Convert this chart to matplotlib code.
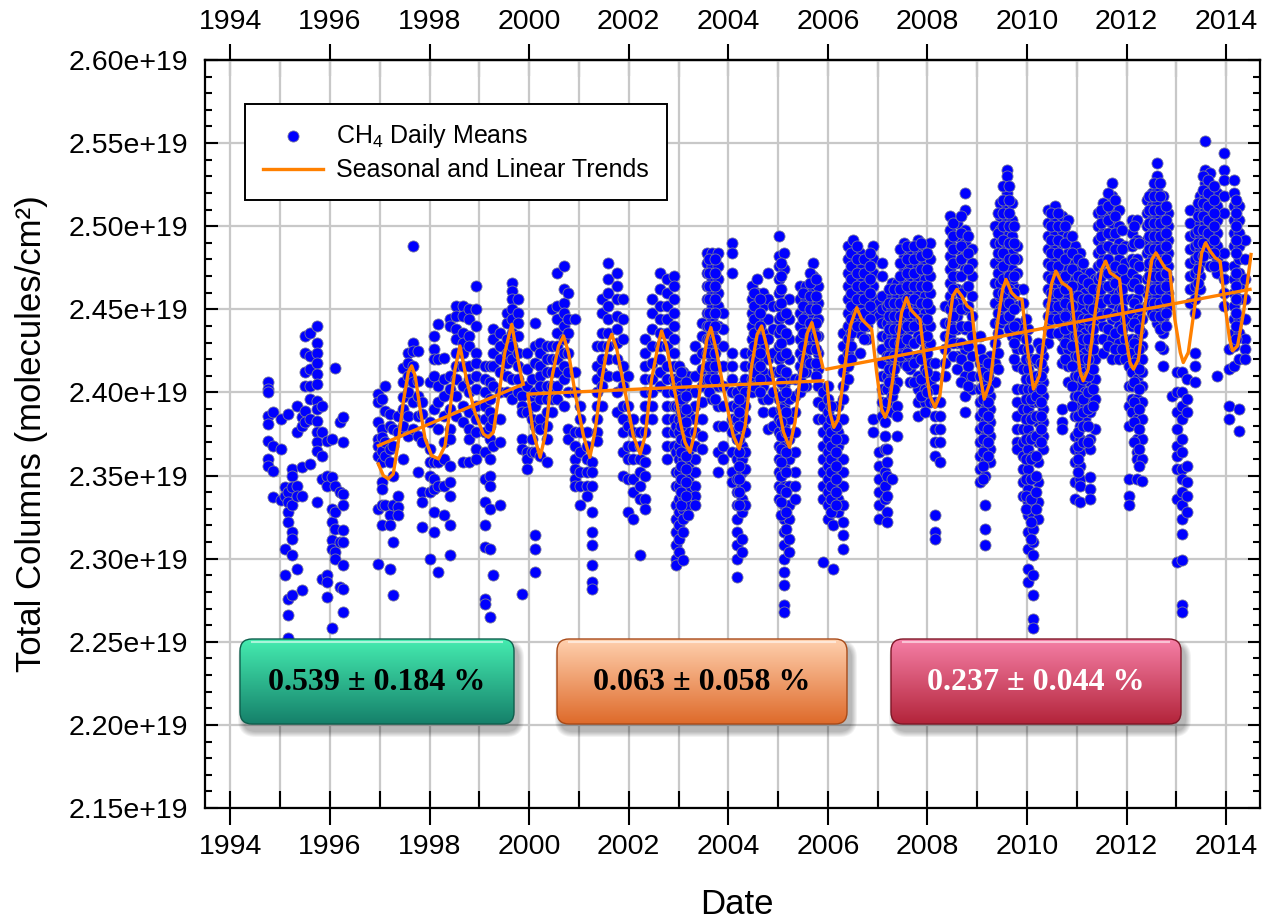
import numpy as np
import matplotlib
matplotlib.use("Agg")
import matplotlib.pyplot as plt
from matplotlib.patches import FancyBboxPatch
from matplotlib.colors import LinearSegmentedColormap
from matplotlib.ticker import MultipleLocator, FuncFormatter

plt.rcParams['font.family'] = ['Liberation Sans', 'DejaVu Sans']
plt.rcParams['mathtext.default'] = 'regular'

# ---------------- data (total columns, units of 1e19 molecules/cm^2) ----------------
# each entry: (decimal year, [daily mean values observed around that date])
daily_1994_1996 = [
    (1994.76, [2.406, 2.402, 2.400, 2.386, 2.381, 2.371, 2.360, 2.356]),
    (1994.86, [2.388, 2.368, 2.353, 2.337]),
    (1995.01, [2.384, 2.366, 2.335]),
    (1995.10, [2.343, 2.338, 2.306, 2.290]),
    (1995.16, [2.387, 2.340, 2.334, 2.328, 2.322, 2.276, 2.266, 2.252]),
    (1995.23, [2.354, 2.350, 2.343, 2.332, 2.316, 2.312, 2.302, 2.278]),
    (1995.33, [2.392, 2.376, 2.344, 2.338, 2.294]),
    (1995.43, [2.385, 2.380, 2.355, 2.338, 2.281]),
    (1995.50, [2.434, 2.424, 2.412, 2.404, 2.389, 2.382]),
    (1995.60, [2.436, 2.422, 2.414, 2.404, 2.396, 2.384, 2.357]),
    (1995.73, [2.440, 2.430, 2.424, 2.418, 2.411, 2.405, 2.395, 2.390, 2.383, 2.376, 2.370, 2.365, 2.334]),
    (1995.83, [2.392, 2.376, 2.362, 2.348, 2.288]),
    (1995.93, [2.371, 2.350, 2.344, 2.290, 2.286, 2.277]),
    (1996.03, [2.372, 2.349, 2.330, 2.322, 2.311, 2.306, 2.258]),
    (1996.10, [2.415, 2.344, 2.328, 2.318, 2.304, 2.300]),
    (1996.19, [2.382, 2.340, 2.310, 2.283]),
    (1996.27, [2.385, 2.370, 2.339, 2.332, 2.317, 2.310, 2.296, 2.282, 2.268]),
]

daily_1997_1999 = [
    (1996.97, [2.399, 2.394, 2.382, 2.372, 2.368, 2.362, 2.330, 2.297]),
    (1997.04, [2.396, 2.378, 2.373, 2.365, 2.358, 2.346, 2.342, 2.332, 2.320]),
    (1997.11, [2.404, 2.389, 2.370, 2.362, 2.332]),
    (1997.21, [2.387, 2.380, 2.366, 2.358, 2.326, 2.320, 2.294]),
    (1997.27, [2.378, 2.368, 2.350, 2.332, 2.310, 2.278]),
    (1997.37, [2.386, 2.376, 2.338, 2.331, 2.326]),
    (1997.47, [2.415, 2.406, 2.397, 2.390, 2.380, 2.360]),
    (1997.57, [2.424, 2.418, 2.410, 2.400, 2.386, 2.374]),
    (1997.67, [2.488, 2.430, 2.425, 2.416, 2.406, 2.394, 2.378]),
    (1997.77, [2.425, 2.407, 2.398, 2.386, 2.374, 2.352]),
    (1997.84, [2.394, 2.387, 2.370, 2.340, 2.334, 2.319]),
    (1998.01, [2.406, 2.382, 2.366, 2.358, 2.350, 2.340, 2.300]),
    (1998.08, [2.434, 2.426, 2.420, 2.410, 2.390, 2.358, 2.348, 2.342, 2.328, 2.316]),
    (1998.17, [2.441, 2.420, 2.404, 2.394, 2.378, 2.358, 2.344, 2.292]),
    (1998.28, [2.421, 2.408, 2.398, 2.386, 2.370, 2.360, 2.344, 2.326]),
    (1998.41, [2.444, 2.440, 2.410, 2.402, 2.390, 2.378, 2.372, 2.356, 2.346, 2.338, 2.320, 2.302]),
    (1998.54, [2.452, 2.446, 2.438, 2.432, 2.424, 2.416, 2.408, 2.398, 2.386]),
    (1998.68, [2.452, 2.446, 2.436, 2.430, 2.424, 2.416, 2.404, 2.392, 2.382, 2.358]),
    (1998.80, [2.450, 2.444, 2.434, 2.428, 2.416, 2.408, 2.400, 2.388, 2.378, 2.372, 2.358]),
    (1998.94, [2.464, 2.450, 2.440, 2.424, 2.418, 2.410, 2.402, 2.392, 2.384, 2.376, 2.366, 2.360]),
    (1999.11, [2.416, 2.408, 2.400, 2.392, 2.384, 2.376, 2.364, 2.348, 2.334, 2.320, 2.307, 2.276, 2.273]),
    (1999.21, [2.416, 2.406, 2.396, 2.388, 2.380, 2.372, 2.360, 2.350, 2.344, 2.330, 2.306, 2.265]),
    (1999.28, [2.438, 2.432, 2.424, 2.416, 2.404, 2.384, 2.368, 2.290]),
    (1999.41, [2.436, 2.428, 2.420, 2.412, 2.400, 2.384, 2.370, 2.332]),
    (1999.55, [2.448, 2.442, 2.432, 2.424, 2.418, 2.410, 2.400]),
    (1999.65, [2.466, 2.461, 2.456, 2.450, 2.444, 2.436, 2.428, 2.420, 2.408, 2.396]),
    (1999.78, [2.456, 2.448, 2.442, 2.434, 2.424, 2.416, 2.408, 2.400]),
    (1999.85, [2.398, 2.392, 2.388, 2.372, 2.366, 2.279]),
    (1999.95, [2.424, 2.414, 2.404, 2.388, 2.364, 2.360, 2.354]),
]

daily_2000_2005 = [
    (2000.05, [2.408, 2.398, 2.384, 2.372, 2.364]),
    (2000.12, [2.442, 2.428, 2.418, 2.400, 2.392, 2.380, 2.364, 2.314, 2.306, 2.292]),
    (2000.22, [2.430, 2.424, 2.416, 2.410, 2.404, 2.396, 2.384, 2.378, 2.362]),
    (2000.35, [2.428, 2.420, 2.412, 2.404, 2.396, 2.388, 2.380, 2.372, 2.358]),
    (2000.45, [2.450, 2.428, 2.420, 2.412, 2.404, 2.396, 2.388]),
    (2000.55, [2.472, 2.452, 2.444, 2.436, 2.428, 2.420, 2.412, 2.404, 2.396]),
    (2000.69, [2.476, 2.462, 2.454, 2.448, 2.440, 2.432, 2.424, 2.416, 2.408, 2.392]),
    (2000.79, [2.460, 2.444, 2.436, 2.424, 2.412, 2.400, 2.378, 2.372]),
    (2000.92, [2.444, 2.412, 2.400, 2.376, 2.368, 2.360, 2.354, 2.348, 2.344]),
    (2001.02, [2.392, 2.384, 2.376, 2.364, 2.352, 2.344, 2.332]),
    (2001.16, [2.376, 2.368, 2.360, 2.352, 2.344, 2.338]),
    (2001.26, [2.358, 2.352, 2.344, 2.328, 2.316, 2.308, 2.296, 2.286, 2.282]),
    (2001.36, [2.428, 2.416, 2.408, 2.400, 2.392, 2.384, 2.376, 2.371]),
    (2001.46, [2.456, 2.448, 2.436, 2.428, 2.420, 2.412, 2.404, 2.392]),
    (2001.59, [2.478, 2.468, 2.460, 2.452, 2.444, 2.436, 2.428, 2.420, 2.410]),
    (2001.76, [2.472, 2.464, 2.456, 2.446, 2.438, 2.430, 2.420, 2.410, 2.400, 2.388]),
    (2001.89, [2.456, 2.444, 2.432, 2.416, 2.404, 2.392, 2.384, 2.376, 2.364, 2.350]),
    (2001.99, [2.410, 2.392, 2.380, 2.368, 2.360, 2.348, 2.328]),
    (2002.09, [2.384, 2.376, 2.368, 2.360, 2.348, 2.340, 2.324]),
    (2002.23, [2.376, 2.368, 2.360, 2.352, 2.344, 2.336, 2.302]),
    (2002.33, [2.432, 2.424, 2.416, 2.408, 2.400, 2.392, 2.384, 2.376, 2.366, 2.358, 2.350, 2.336, 2.330]),
    (2002.46, [2.456, 2.448, 2.438, 2.428, 2.418, 2.408, 2.400, 2.392, 2.384]),
    (2002.63, [2.472, 2.462, 2.452, 2.444, 2.436, 2.428, 2.420, 2.412, 2.404]),
    (2002.76, [2.468, 2.460, 2.452, 2.444, 2.436, 2.428, 2.416, 2.408, 2.400, 2.392, 2.384, 2.376, 2.368, 2.360]),
    (2002.90, [2.470, 2.464, 2.456, 2.448, 2.440, 2.432, 2.424, 2.416, 2.408, 2.400, 2.392, 2.384, 2.376, 2.368]),
    (2002.95, [2.404, 2.392, 2.380, 2.364, 2.352, 2.344, 2.332, 2.324, 2.316, 2.308, 2.300, 2.296]),
    (2003.00, [2.416, 2.408, 2.400, 2.392, 2.384, 2.376, 2.368, 2.360, 2.352, 2.344, 2.336, 2.328, 2.320, 2.312, 2.304]),
    (2003.10, [2.412, 2.404, 2.396, 2.384, 2.372, 2.360, 2.348, 2.338, 2.330, 2.324, 2.316, 2.299]),
    (2003.20, [2.410, 2.400, 2.388, 2.376, 2.364, 2.356, 2.348, 2.340, 2.332, 2.326]),
    (2003.33, [2.428, 2.420, 2.410, 2.400, 2.392, 2.384, 2.376, 2.368, 2.360, 2.352, 2.344, 2.338, 2.332]),
    (2003.47, [2.442, 2.434, 2.424, 2.414, 2.404, 2.394, 2.384, 2.374, 2.366]),
    (2003.57, [2.484, 2.478, 2.472, 2.464, 2.456, 2.448, 2.440, 2.432, 2.424, 2.416, 2.408]),
    (2003.67, [2.484, 2.476, 2.468, 2.460, 2.452, 2.444, 2.436, 2.428, 2.420, 2.412, 2.404, 2.396]),
    (2003.80, [2.484, 2.476, 2.468, 2.460, 2.452, 2.440, 2.428, 2.416, 2.404, 2.392, 2.380, 2.364, 2.352]),
    (2003.90, [2.448, 2.438, 2.428, 2.416, 2.404, 2.392, 2.380, 2.368, 2.360]),
    (2004.07, [2.490, 2.484, 2.472, 2.424, 2.416, 2.408, 2.400, 2.392, 2.384, 2.376, 2.364, 2.352, 2.346]),
    (2004.17, [2.400, 2.392, 2.384, 2.372, 2.360, 2.348, 2.340, 2.332, 2.324, 2.316, 2.308, 2.300, 2.289]),
    (2004.27, [2.404, 2.396, 2.388, 2.380, 2.368, 2.360, 2.352, 2.344, 2.336, 2.328, 2.312, 2.304]),
    (2004.34, [2.424, 2.416, 2.408, 2.400, 2.392, 2.384, 2.376, 2.364, 2.354, 2.344, 2.332]),
    (2004.47, [2.464, 2.456, 2.448, 2.440, 2.432, 2.424, 2.416, 2.408, 2.400]),
    (2004.57, [2.468, 2.460, 2.452, 2.444, 2.436, 2.428, 2.420, 2.412, 2.404]),
    (2004.70, [2.460, 2.452, 2.444, 2.436, 2.428, 2.420, 2.412, 2.404, 2.396, 2.388]),
    (2004.80, [2.472, 2.456, 2.444, 2.432, 2.420, 2.408, 2.396, 2.378]),
    (2004.90, [2.452, 2.438, 2.424, 2.412, 2.400, 2.388, 2.380]),
    (2005.01, [2.494, 2.482, 2.476, 2.468, 2.460, 2.452, 2.444, 2.436, 2.428, 2.420, 2.412, 2.396,
               2.384, 2.376, 2.368, 2.360, 2.352, 2.344, 2.336]),
    (2005.11, [2.484, 2.474, 2.404, 2.392, 2.380, 2.368, 2.356, 2.344, 2.332, 2.324, 2.316, 2.308,
               2.300, 2.292, 2.284, 2.272, 2.268]),
    (2005.21, [2.456, 2.444, 2.432, 2.420, 2.408, 2.396, 2.384, 2.372, 2.360, 2.344, 2.332, 2.324, 2.312, 2.304]),
    (2005.34, [2.408, 2.398, 2.388, 2.376, 2.364, 2.352, 2.344, 2.336]),
    (2005.44, [2.464, 2.456, 2.448, 2.440, 2.432, 2.424, 2.416, 2.408, 2.400]),
    (2005.57, [2.464, 2.456, 2.446, 2.436, 2.428, 2.420, 2.412, 2.404]),
    (2005.71, [2.478, 2.470, 2.462, 2.454, 2.446, 2.438, 2.430]),
    (2005.81, [2.464, 2.454, 2.444, 2.434, 2.424, 2.414, 2.404, 2.394, 2.384]),
]

daily_2006_2014 = [
    (2005.91, [2.400, 2.392, 2.384, 2.376, 2.368, 2.360, 2.352, 2.344, 2.336, 2.298]),
    (2006.01, [2.404, 2.396, 2.388, 2.380, 2.372, 2.364, 2.356, 2.348, 2.340, 2.332, 2.324]),
    (2006.11, [2.376, 2.368, 2.360, 2.352, 2.344, 2.336, 2.328, 2.320, 2.294]),
    (2006.21, [2.392, 2.384, 2.376, 2.368, 2.360, 2.352, 2.344, 2.336, 2.328]),
    (2006.31, [2.436, 2.428, 2.420, 2.412, 2.404, 2.396, 2.384, 2.372, 2.360, 2.352, 2.344, 2.332, 2.322, 2.314, 2.306]),
    (2006.41, [2.488, 2.480, 2.472, 2.464, 2.456, 2.448, 2.440, 2.432, 2.424, 2.416, 2.408]),
    (2006.51, [2.492, 2.484, 2.476, 2.468, 2.460, 2.452, 2.444]),
    (2006.65, [2.484, 2.476, 2.468, 2.460, 2.452, 2.444, 2.436, 2.424]),
    (2006.78, [2.472, 2.464, 2.456, 2.448, 2.440, 2.432]),
    (2006.91, [2.488, 2.480, 2.472, 2.464, 2.456, 2.448, 2.384, 2.376]),
    (2007.02, [2.454, 2.446, 2.364, 2.356, 2.348, 2.340, 2.332, 2.324]),
    (2007.09, [2.478, 2.470, 2.458, 2.450, 2.442, 2.434, 2.426, 2.418, 2.410, 2.402, 2.394, 2.386]),
    (2007.15, [2.390, 2.382, 2.374, 2.366, 2.352, 2.344, 2.336]),
    (2007.18, [2.452, 2.442, 2.434, 2.422, 2.410, 2.402, 2.394, 2.366, 2.358, 2.350, 2.338, 2.328, 2.322]),
    (2007.28, [2.466, 2.458, 2.450, 2.442, 2.434, 2.426, 2.418, 2.410, 2.398, 2.388, 2.348]),
    (2007.38, [2.466, 2.458, 2.450, 2.442, 2.434, 2.426, 2.418, 2.406, 2.392, 2.386, 2.374]),
    (2007.52, [2.490, 2.482, 2.474, 2.466, 2.458, 2.450, 2.442, 2.434, 2.426, 2.418]),
    (2007.65, [2.486, 2.478, 2.470, 2.462, 2.454, 2.446, 2.438, 2.430, 2.422, 2.414, 2.406]),
    (2007.82, [2.492, 2.484, 2.476, 2.468, 2.460, 2.452, 2.444, 2.434, 2.422, 2.410, 2.402, 2.394, 2.386]),
    (2007.95, [2.488, 2.478, 2.468, 2.458, 2.448, 2.438, 2.426, 2.414, 2.402, 2.394, 2.388]),
    (2008.05, [2.490, 2.480, 2.470, 2.460, 2.450, 2.440, 2.430, 2.418, 2.406, 2.394]),
    (2008.15, [2.418, 2.410, 2.402, 2.394, 2.386, 2.378, 2.370, 2.362, 2.326, 2.316, 2.312]),
    (2008.25, [2.394, 2.386, 2.378, 2.370, 2.358]),
    (2008.35, [2.452, 2.442, 2.434, 2.426, 2.418, 2.410]),
    (2008.45, [2.506, 2.498, 2.490, 2.482, 2.474, 2.466, 2.458, 2.450, 2.442, 2.434]),
    (2008.59, [2.502, 2.494, 2.486, 2.478, 2.470, 2.462, 2.454, 2.446, 2.438, 2.430, 2.422, 2.414]),
    (2008.76, [2.520, 2.510, 2.498, 2.490, 2.482, 2.474, 2.462, 2.450, 2.438, 2.426, 2.410, 2.398, 2.388]),
    (2008.89, [2.486, 2.478, 2.470, 2.458, 2.446, 2.434, 2.422, 2.410, 2.402]),
    (2009.06, [2.434, 2.426, 2.418, 2.410, 2.402, 2.394, 2.386, 2.378, 2.370, 2.362, 2.354, 2.346]),
    (2009.16, [2.406, 2.398, 2.390, 2.382, 2.374, 2.366, 2.358, 2.350, 2.332, 2.318, 2.308]),
    (2009.26, [2.422, 2.414, 2.406, 2.398, 2.390, 2.382, 2.374, 2.366, 2.358]),
    (2009.36, [2.500, 2.490, 2.478, 2.466, 2.454, 2.442, 2.430, 2.418, 2.406]),
    (2009.46, [2.514, 2.506, 2.498, 2.490, 2.482, 2.474, 2.466, 2.458, 2.450, 2.442]),
    (2009.59, [2.534, 2.530, 2.520, 2.512, 2.504, 2.496, 2.488, 2.480, 2.472, 2.464, 2.456]),
    (2009.69, [2.514, 2.504, 2.494, 2.484, 2.474, 2.466, 2.458, 2.450, 2.442, 2.434]),
    (2009.79, [2.488, 2.480, 2.472, 2.462, 2.452, 2.442, 2.434, 2.426, 2.416, 2.402, 2.394, 2.386, 2.378, 2.370, 2.366]),
    (2009.93, [2.462, 2.454, 2.438, 2.426, 2.414, 2.402, 2.390, 2.378, 2.370, 2.362, 2.354, 2.346, 2.338]),
    (2010.03, [2.438, 2.426, 2.414, 2.402, 2.390, 2.378, 2.366, 2.354, 2.342, 2.334, 2.326, 2.316, 2.306, 2.294, 2.286]),
    (2010.13, [2.410, 2.402, 2.394, 2.386, 2.374, 2.362, 2.338, 2.326, 2.318, 2.310, 2.302, 2.290, 2.278, 2.264, 2.258]),
    (2010.23, [2.430, 2.418, 2.406, 2.394, 2.382, 2.370, 2.358, 2.346, 2.334, 2.324]),
    (2010.33, [2.422, 2.414, 2.406, 2.398, 2.390, 2.382, 2.374, 2.366]),
    (2010.43, [2.510, 2.502, 2.494, 2.486, 2.478, 2.470, 2.462, 2.454, 2.446, 2.438, 2.430]),
    (2010.56, [2.512, 2.504, 2.496, 2.488, 2.480, 2.472, 2.464, 2.456, 2.448]),
    (2010.70, [2.506, 2.498, 2.490, 2.482, 2.474, 2.466, 2.458, 2.450, 2.442, 2.434, 2.426, 2.418, 2.390, 2.382, 2.378]),
    (2010.83, [2.504, 2.494, 2.484, 2.474, 2.466, 2.458, 2.450, 2.442, 2.434, 2.426, 2.416, 2.406]),
    (2010.97, [2.488, 2.478, 2.468, 2.458, 2.446, 2.434, 2.422, 2.410, 2.398, 2.386, 2.374, 2.366, 2.358, 2.346, 2.336]),
    (2011.07, [2.484, 2.476, 2.464, 2.452, 2.440, 2.428, 2.416, 2.404, 2.392, 2.380, 2.372, 2.364, 2.356, 2.348, 2.344, 2.334]),
    (2011.17, [2.472, 2.460, 2.448, 2.436, 2.424, 2.412, 2.400, 2.392, 2.384]),
    (2011.27, [2.472, 2.464, 2.452, 2.440, 2.428, 2.416, 2.406, 2.396, 2.388, 2.372, 2.366, 2.349, 2.342, 2.336]),
    (2011.37, [2.468, 2.456, 2.444, 2.432, 2.420, 2.408, 2.396, 2.378]),
    (2011.43, [2.508, 2.500, 2.492, 2.484, 2.476, 2.468, 2.460]),
    (2011.53, [2.514, 2.506, 2.496, 2.488, 2.480, 2.472, 2.464, 2.456, 2.448, 2.440, 2.432, 2.424]),
    (2011.70, [2.526, 2.518, 2.510, 2.502, 2.494, 2.486, 2.478, 2.470, 2.462, 2.454, 2.444, 2.432, 2.420]),
    (2011.84, [2.510, 2.500, 2.490, 2.480, 2.470, 2.460, 2.450, 2.440, 2.430, 2.420]),
    (2011.97, [2.488, 2.478, 2.468, 2.456, 2.444, 2.432, 2.420]),
    (2012.04, [2.428, 2.416, 2.404, 2.392, 2.380, 2.348, 2.338, 2.332]),
    (2012.10, [2.504, 2.496, 2.488, 2.480, 2.472, 2.464, 2.456, 2.448, 2.440, 2.432, 2.424, 2.412, 2.404, 2.396, 2.388]),
    (2012.21, [2.504, 2.492, 2.480, 2.468, 2.456, 2.444, 2.432, 2.420, 2.408, 2.396, 2.384, 2.372, 2.364, 2.360, 2.348]),
    (2012.31, [2.444, 2.436, 2.428, 2.420, 2.412, 2.404, 2.394, 2.384, 2.372, 2.360, 2.347]),
    (2012.41, [2.516, 2.508, 2.500, 2.492, 2.484, 2.476, 2.468, 2.460, 2.452]),
    (2012.51, [2.520, 2.512, 2.504, 2.496, 2.488, 2.480, 2.472, 2.464, 2.456, 2.448]),
    (2012.61, [2.538, 2.530, 2.522, 2.514, 2.506, 2.498, 2.490, 2.482, 2.474, 2.466, 2.458, 2.450, 2.442]),
    (2012.74, [2.518, 2.510, 2.502, 2.494, 2.486, 2.478, 2.470, 2.462, 2.454, 2.444, 2.436, 2.426, 2.416]),
    (2012.84, [2.508, 2.500, 2.492, 2.484, 2.476, 2.468, 2.460, 2.452]),
    (2012.91, [2.398]),
    (2013.01, [2.412, 2.400, 2.388, 2.378, 2.368, 2.362, 2.354, 2.336, 2.298]),
    (2013.11, [2.412, 2.400, 2.392, 2.384, 2.372, 2.364, 2.354, 2.348, 2.340, 2.332, 2.324, 2.315, 2.299, 2.272, 2.268]),
    (2013.21, [2.408, 2.396, 2.388, 2.356, 2.346, 2.338, 2.328]),
    (2013.28, [2.510, 2.502, 2.494, 2.486, 2.478, 2.470, 2.462, 2.454]),
    (2013.38, [2.496, 2.488, 2.480, 2.472, 2.464, 2.456, 2.448, 2.424, 2.416, 2.406]),
    (2013.48, [2.518, 2.510, 2.502, 2.494, 2.486, 2.478, 2.470, 2.462]),
    (2013.58, [2.551, 2.534, 2.526, 2.518, 2.510, 2.502]),
    (2013.68, [2.532, 2.524, 2.516, 2.508, 2.500, 2.492, 2.484, 2.476]),
    (2013.81, [2.520, 2.512, 2.504, 2.496, 2.488, 2.480, 2.472, 2.410]),
    (2013.95, [2.544, 2.534, 2.528, 2.518, 2.508, 2.484, 2.476, 2.468, 2.460, 2.452]),
    (2014.05, [2.426, 2.414, 2.392, 2.384]),
    (2014.15, [2.528, 2.520, 2.512, 2.504, 2.496, 2.488, 2.476, 2.468, 2.460, 2.452, 2.444, 2.436, 2.428, 2.416]),
    (2014.25, [2.512, 2.504, 2.496, 2.488, 2.480, 2.472, 2.464, 2.456, 2.444, 2.436, 2.420, 2.390, 2.377]),
    (2014.38, [2.492, 2.480, 2.468, 2.456, 2.444, 2.432, 2.426, 2.420]),
]

# extra days inside the densely sampled seasonal clusters (solid blue areas)
daily_dense = [
    (2003.05, [2.412, 2.404, 2.396, 2.388, 2.380, 2.372, 2.364, 2.356, 2.348, 2.340, 2.332]),
    (2003.15, [2.406, 2.398, 2.390, 2.382, 2.370, 2.362, 2.354, 2.346, 2.338]),
    (2003.62, [2.480, 2.472, 2.464, 2.456, 2.448, 2.440, 2.432, 2.424, 2.416, 2.408, 2.400]),
    (2003.74, [2.480, 2.472, 2.464, 2.456, 2.448, 2.440, 2.432, 2.424, 2.416, 2.408, 2.396]),
    (2004.22, [2.396, 2.388, 2.380, 2.372, 2.364, 2.356, 2.348, 2.340, 2.332]),
    (2004.52, [2.460, 2.452, 2.444, 2.436, 2.428, 2.420, 2.412, 2.404]),
    (2004.64, [2.456, 2.448, 2.440, 2.432, 2.424, 2.416, 2.408, 2.400]),
    (2005.06, [2.478, 2.470, 2.462, 2.454, 2.446, 2.438, 2.430, 2.422, 2.414, 2.406, 2.398, 2.390,
               2.382, 2.374, 2.366, 2.358, 2.350, 2.342, 2.334, 2.326]),
    (2005.16, [2.448, 2.436, 2.424, 2.412, 2.400, 2.388, 2.376, 2.364, 2.352, 2.340, 2.328, 2.318]),
    (2005.50, [2.460, 2.452, 2.444, 2.436, 2.428, 2.420, 2.412, 2.404]),
    (2005.64, [2.472, 2.466, 2.458, 2.450, 2.442, 2.434, 2.426, 2.418]),
    (2005.76, [2.468, 2.458, 2.450, 2.442, 2.434, 2.426, 2.418, 2.410]),
    (2006.06, [2.392, 2.384, 2.376, 2.368, 2.360, 2.352, 2.344, 2.336, 2.328]),
    (2006.16, [2.380, 2.372, 2.364, 2.356, 2.348, 2.340, 2.332]),
    (2006.46, [2.484, 2.476, 2.468, 2.460, 2.452, 2.444, 2.436, 2.428, 2.420]),
    (2006.58, [2.488, 2.480, 2.472, 2.464, 2.456, 2.448, 2.440]),
    (2006.72, [2.480, 2.472, 2.464, 2.456, 2.448, 2.440, 2.432]),
    (2006.85, [2.484, 2.476, 2.468, 2.460, 2.452, 2.444]),
    (2007.23, [2.462, 2.454, 2.446, 2.438, 2.430, 2.422, 2.414, 2.406]),
    (2007.33, [2.462, 2.454, 2.446, 2.438, 2.430, 2.422, 2.414, 2.402]),
    (2007.45, [2.486, 2.478, 2.470, 2.462, 2.454, 2.446, 2.438, 2.430, 2.422]),
    (2007.58, [2.488, 2.480, 2.472, 2.464, 2.456, 2.448, 2.440, 2.432, 2.424, 2.416]),
    (2007.73, [2.488, 2.480, 2.472, 2.464, 2.456, 2.448, 2.440, 2.430, 2.418, 2.406]),
    (2007.88, [2.490, 2.482, 2.474, 2.464, 2.454, 2.444, 2.432, 2.420, 2.408, 2.398]),
    (2008.00, [2.484, 2.474, 2.464, 2.454, 2.444, 2.434, 2.424, 2.412, 2.400]),
    (2008.52, [2.502, 2.494, 2.486, 2.478, 2.470, 2.462, 2.454, 2.446, 2.438, 2.430, 2.422]),
    (2008.67, [2.506, 2.496, 2.488, 2.480, 2.470, 2.460, 2.450, 2.440, 2.430, 2.420, 2.406]),
    (2008.82, [2.494, 2.484, 2.474, 2.464, 2.452, 2.440, 2.428, 2.416, 2.404]),
    (2009.11, [2.420, 2.412, 2.404, 2.396, 2.388, 2.380, 2.372, 2.364, 2.356, 2.348]),
    (2009.21, [2.418, 2.410, 2.402, 2.394, 2.386, 2.378, 2.370, 2.362]),
    (2009.41, [2.508, 2.496, 2.484, 2.472, 2.460, 2.448, 2.436, 2.424, 2.414]),
    (2009.52, [2.524, 2.516, 2.508, 2.500, 2.492, 2.484, 2.476, 2.468, 2.460, 2.452, 2.444]),
    (2009.64, [2.524, 2.516, 2.508, 2.500, 2.490, 2.480, 2.470, 2.462, 2.454, 2.446, 2.438]),
    (2009.74, [2.500, 2.490, 2.480, 2.470, 2.460, 2.450, 2.440, 2.430, 2.420]),
    (2009.98, [2.444, 2.432, 2.420, 2.408, 2.396, 2.384, 2.372, 2.360, 2.348, 2.338, 2.330]),
    (2010.08, [2.420, 2.408, 2.396, 2.384, 2.372, 2.360, 2.348, 2.336, 2.322, 2.312]),
    (2010.18, [2.420, 2.410, 2.398, 2.386, 2.374, 2.362, 2.350, 2.340, 2.330]),
    (2010.28, [2.426, 2.418, 2.410, 2.402, 2.394, 2.386, 2.378, 2.370]),
    (2010.49, [2.508, 2.500, 2.492, 2.484, 2.476, 2.468, 2.460, 2.452, 2.444, 2.436]),
    (2010.63, [2.508, 2.500, 2.492, 2.484, 2.476, 2.468, 2.460, 2.452, 2.444, 2.436]),
    (2010.77, [2.500, 2.490, 2.480, 2.470, 2.462, 2.454, 2.446, 2.438, 2.430, 2.420]),
    (2010.90, [2.494, 2.484, 2.474, 2.464, 2.452, 2.440, 2.428, 2.416, 2.404, 2.392]),
    (2011.02, [2.480, 2.470, 2.458, 2.446, 2.434, 2.422, 2.410, 2.398, 2.386, 2.376, 2.368, 2.360, 2.352]),
    (2011.12, [2.478, 2.468, 2.456, 2.444, 2.432, 2.420, 2.408, 2.396, 2.388, 2.380, 2.370]),
    (2011.22, [2.466, 2.456, 2.444, 2.432, 2.420, 2.410, 2.400, 2.390, 2.380, 2.370]),
    (2011.32, [2.462, 2.450, 2.438, 2.426, 2.414, 2.402, 2.392]),
    (2011.48, [2.510, 2.502, 2.494, 2.486, 2.478, 2.470, 2.462, 2.454, 2.446]),
    (2011.62, [2.520, 2.512, 2.504, 2.496, 2.488, 2.480, 2.472, 2.464, 2.456, 2.448, 2.438, 2.428]),
    (2011.77, [2.516, 2.506, 2.496, 2.486, 2.476, 2.466, 2.456, 2.446, 2.436, 2.426]),
    (2011.91, [2.498, 2.486, 2.474, 2.462, 2.450, 2.438, 2.426]),
    (2012.15, [2.500, 2.490, 2.478, 2.466, 2.454, 2.442, 2.430, 2.418, 2.406, 2.394, 2.382, 2.370]),
    (2012.26, [2.490, 2.476, 2.462, 2.450, 2.438, 2.426, 2.414, 2.402, 2.390, 2.378, 2.366, 2.356]),
    (2012.46, [2.518, 2.510, 2.502, 2.494, 2.486, 2.478, 2.470, 2.462, 2.454]),
    (2012.56, [2.526, 2.518, 2.510, 2.502, 2.494, 2.486, 2.478, 2.470, 2.462, 2.454, 2.446]),
    (2012.68, [2.526, 2.518, 2.510, 2.502, 2.494, 2.486, 2.478, 2.470, 2.462, 2.454, 2.446, 2.438, 2.428]),
    (2012.79, [2.512, 2.504, 2.496, 2.488, 2.480, 2.472, 2.464, 2.456, 2.448, 2.440]),
    (2013.43, [2.514, 2.506, 2.498, 2.490, 2.482, 2.474, 2.466]),
    (2013.53, [2.530, 2.522, 2.514, 2.506, 2.498, 2.490, 2.482]),
    (2013.63, [2.528, 2.520, 2.512, 2.504, 2.496, 2.488]),
    (2013.75, [2.524, 2.516, 2.508, 2.500, 2.492, 2.484, 2.476]),
    (2014.20, [2.516, 2.508, 2.500, 2.492, 2.484, 2.472, 2.464, 2.456, 2.448, 2.440, 2.432]),
]

# fitted seasonal + linear model, three periods: (decimal year, value)
seasonal_1997_1999 = [
    (1996.97, 2.357), (1997.07, 2.350), (1997.17, 2.348), (1997.27, 2.351), (1997.37, 2.370),
    (1997.47, 2.394), (1997.57, 2.412), (1997.64, 2.416), (1997.71, 2.410), (1997.81, 2.390),
    (1997.91, 2.372), (1998.04, 2.362), (1998.18, 2.360), (1998.31, 2.368), (1998.41, 2.390),
    (1998.51, 2.414), (1998.61, 2.428), (1998.74, 2.408), (1998.91, 2.388), (1999.08, 2.375),
    (1999.18, 2.373), (1999.28, 2.376), (1999.38, 2.396), (1999.51, 2.424), (1999.65, 2.441),
    (1999.75, 2.424), (1999.85, 2.408), (1999.88, 2.405),
]
seasonal_2000_2005 = [
    (1999.98, 2.398), (2000.08, 2.376), (2000.22, 2.361), (2000.32, 2.374), (2000.45, 2.408),
    (2000.59, 2.428), (2000.69, 2.434), (2000.79, 2.424), (2000.92, 2.400), (2001.09, 2.374),
    (2001.22, 2.361), (2001.32, 2.376), (2001.46, 2.408), (2001.59, 2.430), (2001.66, 2.435),
    (2001.76, 2.426), (2001.93, 2.400), (2002.09, 2.374), (2002.23, 2.363), (2002.33, 2.374),
    (2002.46, 2.408), (2002.60, 2.430), (2002.66, 2.437), (2002.76, 2.428), (2002.93, 2.400),
    (2003.05, 2.380), (2003.13, 2.370), (2003.23, 2.364), (2003.33, 2.376), (2003.47, 2.412),
    (2003.57, 2.432), (2003.65, 2.439), (2003.77, 2.424), (2003.93, 2.398), (2004.10, 2.374),
    (2004.22, 2.366), (2004.34, 2.380), (2004.47, 2.416), (2004.58, 2.435), (2004.67, 2.440),
    (2004.77, 2.428), (2004.94, 2.402), (2005.11, 2.376), (2005.23, 2.367), (2005.34, 2.382),
    (2005.47, 2.416), (2005.59, 2.436), (2005.68, 2.442), (2005.78, 2.430), (2005.90, 2.415),
]
seasonal_2006_2014 = [
    (2005.98, 2.406), (2006.04, 2.388), (2006.12, 2.379), (2006.21, 2.384), (2006.31, 2.408),
    (2006.45, 2.440), (2006.58, 2.451), (2006.68, 2.444), (2006.78, 2.441), (2006.88, 2.438),
    (2006.98, 2.412), (2007.08, 2.390), (2007.15, 2.385), (2007.22, 2.390), (2007.35, 2.418),
    (2007.48, 2.448), (2007.58, 2.457), (2007.66, 2.450), (2007.75, 2.447), (2007.85, 2.444),
    (2007.95, 2.418), (2008.05, 2.398), (2008.15, 2.391), (2008.25, 2.398), (2008.39, 2.432),
    (2008.51, 2.458), (2008.59, 2.462), (2008.69, 2.458), (2008.80, 2.452), (2008.89, 2.450),
    (2008.99, 2.422), (2009.14, 2.396), (2009.26, 2.406), (2009.39, 2.438), (2009.51, 2.462),
    (2009.58, 2.468), (2009.69, 2.460), (2009.79, 2.457), (2009.90, 2.456), (2010.01, 2.426),
    (2010.13, 2.402), (2010.25, 2.410), (2010.38, 2.442), (2010.50, 2.466), (2010.58, 2.473),
    (2010.70, 2.466), (2010.80, 2.464), (2010.88, 2.462), (2010.97, 2.436), (2011.07, 2.412),
    (2011.13, 2.407), (2011.23, 2.414), (2011.37, 2.448), (2011.50, 2.474), (2011.58, 2.479),
    (2011.67, 2.472), (2011.77, 2.470), (2011.86, 2.468), (2011.97, 2.436), (2012.07, 2.418),
    (2012.14, 2.414), (2012.24, 2.420), (2012.37, 2.452), (2012.51, 2.480), (2012.59, 2.484),
    (2012.67, 2.480), (2012.77, 2.475), (2012.87, 2.473), (2012.97, 2.444), (2013.08, 2.424),
    (2013.14, 2.418), (2013.24, 2.424), (2013.38, 2.454), (2013.51, 2.484), (2013.59, 2.490),
    (2013.68, 2.485), (2013.78, 2.481), (2013.88, 2.479), (2013.98, 2.452), (2014.07, 2.432),
    (2014.13, 2.425), (2014.23, 2.428), (2014.35, 2.448), (2014.50, 2.483),
]
linear_trends = [
    ([1996.97, 1999.88], [2.368, 2.405]),
    ([1999.98, 2005.90], [2.399, 2.407]),
    ([2005.98, 2014.48], [2.414, 2.462]),
]

trend_rates = ["0.539 \u00b1 0.184 %", "0.063 \u00b1 0.058 %", "0.237 \u00b1 0.044 %"]

x_ticks_major = [1994, 1996, 1998, 2000, 2002, 2004, 2006, 2008, 2010, 2012, 2014]

# ---------------- figure ----------------
W, H = 1262, 923
fig = plt.figure(figsize=(W / 100, H / 100), dpi=100)
L, R, T, B = 205, 1260, 60, 808
ax = fig.add_axes([L / W, 1 - B / H, (R - L) / W, (B - T) / H])
ax.set_xlim(1993.488, 2014.681)
ax.set_ylim(2.15, 2.60)

# grid
ax.set_axisbelow(True)
ax.xaxis.set_major_locator(MultipleLocator(2))
ax.xaxis.set_minor_locator(MultipleLocator(1))
ax.yaxis.set_major_locator(MultipleLocator(0.05))
ax.yaxis.set_minor_locator(MultipleLocator(0.01))
ax.grid(True, which='both', axis='x', color='#c8c8c8', lw=1.6)
ax.grid(True, which='major', axis='y', color='#c8c8c8', lw=1.6)

# scatter
ts, vs = [], []
for group in (daily_1994_1996, daily_1997_1999, daily_2000_2005, daily_2006_2014, daily_dense):
    for t, vals in group:
        for v in vals:
            ts.append(t)
            vs.append(v)
ax.scatter(ts, vs, s=64, c='#0000ff', edgecolors='#7a7a9c', linewidths=0.6,
           zorder=3, label='CH$_4$ Daily Means')

# trend lines
orange = '#ff8000'
first = True
for seg in (seasonal_1997_1999, seasonal_2000_2005, seasonal_2006_2014):
    st = [p[0] for p in seg]
    sv = [p[1] for p in seg]
    ax.plot(st, sv, color=orange, lw=2.4, zorder=4, solid_joinstyle='round',
            label='Seasonal and Linear Trends' if first else None)
    first = False
for lt, lv in linear_trends:
    ax.plot(lt, lv, color=orange, lw=2.4, zorder=4)

# ticks / spines
for sp in ax.spines.values():
    sp.set_linewidth(1.6)
ax.yaxis.set_major_formatter(FuncFormatter(lambda v, p: f"{v:.2f}e+19"))
ax.tick_params(axis='y', which='major', direction='in', length=9, width=1.5,
               labelsize=20.5, pad=12, right=True)
ax.tick_params(axis='y', which='minor', direction='in', length=5, width=1.5, right=True)
ax.tick_params(axis='x', which='major', direction='inout', length=25, width=1.5,
               labelsize=20.5, pad=6, top=False)
ax.tick_params(axis='x', which='minor', direction='in', length=12.5, width=1.5, top=False)
ax.set_xticks(x_ticks_major)
ax.set_xticklabels([str(y) for y in x_ticks_major])

secx = ax.secondary_xaxis('top')
secx.xaxis.set_major_locator(MultipleLocator(2))
secx.xaxis.set_minor_locator(MultipleLocator(1))
secx.set_xticks(x_ticks_major)
secx.set_xticklabels([str(y) for y in x_ticks_major])
secx.tick_params(axis='x', which='major', direction='inout', length=23, width=1.5,
                 labelsize=20.5, pad=6.5)
secx.tick_params(axis='x', which='minor', direction='in', length=12, width=1.5)
secx.spines['top'].set_linewidth(1.6)

# legend
leg = ax.legend(loc='upper left', bbox_to_anchor=(0.038, 0.941), fontsize=18,
                frameon=True, fancybox=False, edgecolor='black', framealpha=1,
                borderpad=0.7, handlelength=2.4, handletextpad=0.55, labelspacing=0.35,
                borderaxespad=0, scatterpoints=1)
leg.get_frame().set_linewidth(1.4)
leg.set_zorder(6)

# axis labels
fig.text(32 / W, 1 - 434 / H, 'Total Columns (molecules/cm\u00b2)', rotation=90,
         ha='center', va='center', fontsize=25)
fig.text(737 / W, 1 - 905 / H, 'Date', ha='center', va='center', fontsize=25)

# ---------------- rate boxes (pixel overlay) ----------------
ov = fig.add_axes([0, 0, 1, 1], zorder=10)
ov.set_xlim(0, W)
ov.set_ylim(H, 0)
ov.axis('off')
ov.patch.set_alpha(0)

boxes = [
    (240, 639, 274, 85, '#45ecb0', '#15806a', '#0e5e4c', 'black'),
    (557, 639, 290, 85, '#ffd0ae', '#de6a2a', '#a84a18', 'black'),
    (891, 639, 290, 85, '#f57fa6', '#b3243a', '#7e1626', 'white'),
]
for (x0, y0, w, h, ctop, cbot, cedge, tcol), txt in zip(boxes, trend_rates):
    for k in range(6):
        p = 6 - k
        ov.add_patch(FancyBboxPatch((x0 + 4 - p, y0 + 7 - p), w + 2 * p, h + 2 * p,
                                    boxstyle=f"round,pad=0,rounding_size={12 + p}",
                                    fc='black', ec='none', alpha=0.05, zorder=1))
    patch = FancyBboxPatch((x0, y0), w, h, boxstyle="round,pad=0,rounding_size=12",
                           fc='none', ec=cedge, lw=1.0, zorder=3)
    ov.add_patch(patch)
    grad = np.linspace(0, 1, 256)[:, None]
    cmap = LinearSegmentedColormap.from_list('g', [ctop, cbot])
    im = ov.imshow(grad, extent=(x0, x0 + w, y0 + h, y0), cmap=cmap, aspect='auto',
                   origin='upper', zorder=2, interpolation='bilinear')
    im.set_clip_path(patch)
    ov.plot([x0 + 12, x0 + w - 12], [y0 + 2.5, y0 + 2.5], color='white', alpha=0.55,
            lw=1.5, zorder=3)
    ov.text(x0 + w / 2, y0 + h / 2 + 1, txt, ha='center', va='center', color=tcol,
            fontsize=23, fontweight='bold', family=['Liberation Serif', 'DejaVu Serif'],
            zorder=4)
ov.set_xlim(0, W)
ov.set_ylim(H, 0)

fig.savefig('out.png', dpi=100)
